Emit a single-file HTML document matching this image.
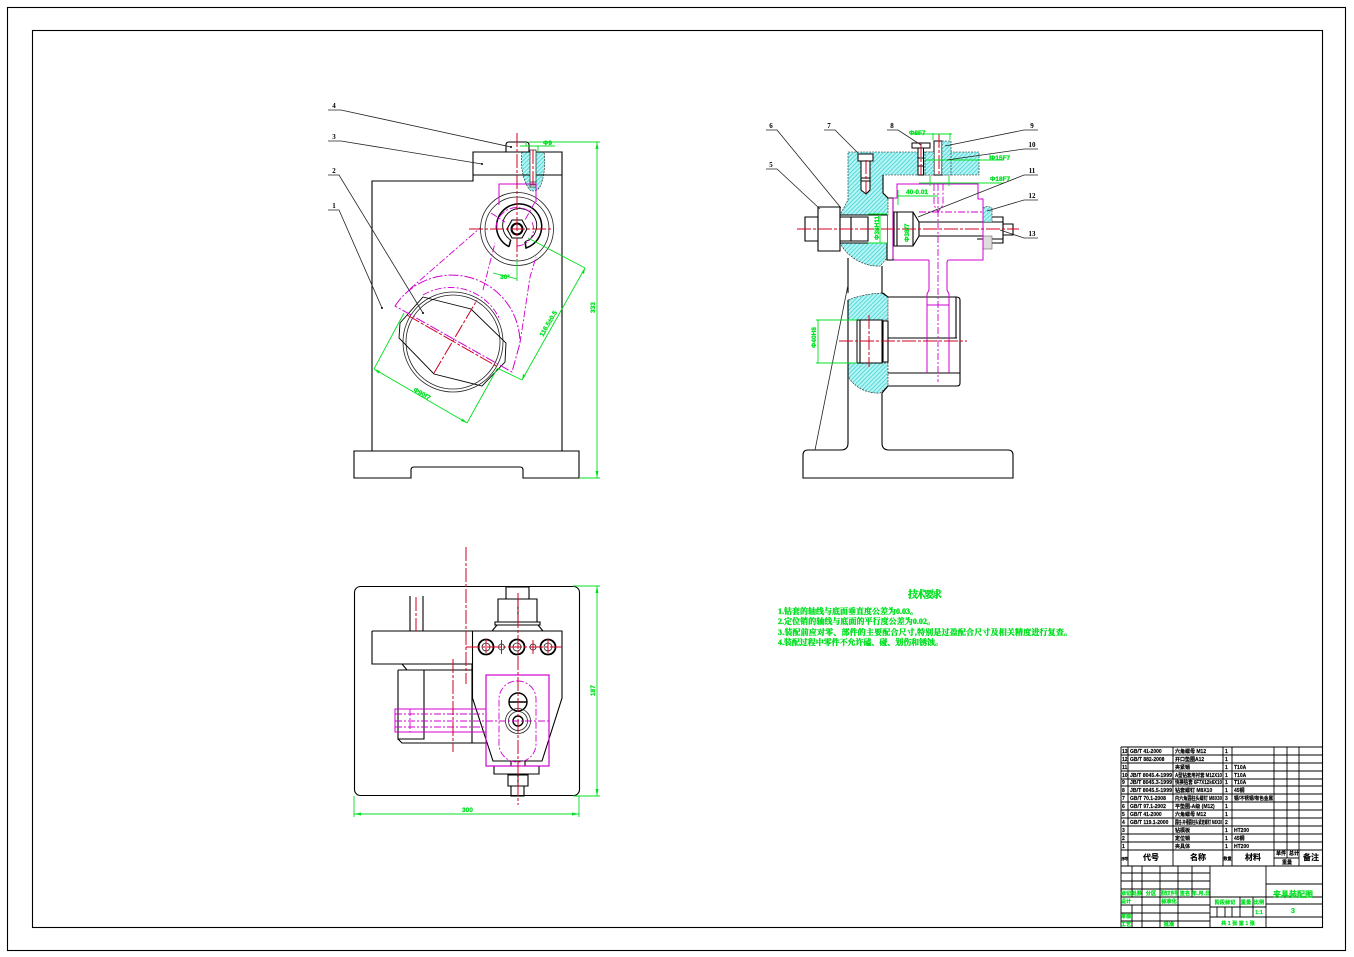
<!DOCTYPE html>
<html><head><meta charset="utf-8"><style>
html,body{margin:0;padding:0;background:#fff}
svg{display:block}
text{font-family:"Liberation Sans","Noto Sans CJK SC",sans-serif}
.k{fill:none;stroke:#000;stroke-width:1.1}
.w{fill:#fff;stroke:#000;stroke-width:1}
.t{fill:none;stroke:#222;stroke-width:.8}
.m{fill:none;stroke:#d000d0;stroke-width:1}
.md{fill:none;stroke:#d000d0;stroke-width:.9;stroke-dasharray:7 2 2 2}
.r{fill:none;stroke:#d00020;stroke-width:1;stroke-dasharray:14 2 3 2}
.g{fill:none;stroke:#00e020;stroke-width:.9}
.gt{fill:#00e020;font-size:6.5px;font-weight:bold;stroke:#00e020;stroke-width:.25}
.n{fill:#000;font-size:7px;font-weight:bold;text-anchor:middle;font-family:"Liberation Serif",serif}
.b{fill:#000;font-size:5px;font-weight:bold;stroke:#000;stroke-width:.15}
.h{fill:#000;font-size:8px;font-weight:bold;text-anchor:middle;stroke:#000;stroke-width:.15}
.s{fill:#00e020;font-size:5.2px;font-weight:bold;text-anchor:middle;stroke:#00e020;stroke-width:.2}
.x{fill:#00e020;font-size:8px;font-weight:bold;stroke:#00e020;stroke-width:.35;font-family:"Liberation Serif","Noto Serif CJK SC",serif}
.hat{fill:url(#hp);stroke:#222;stroke-width:.6;stroke-dasharray:2 1}
</style></head><body>
<svg width="1354" height="957" viewBox="0 0 1354 957" xmlns="http://www.w3.org/2000/svg">
<defs><pattern id="hp" width="3" height="3" patternUnits="userSpaceOnUse" patternTransform="rotate(45)"><rect width="3" height="3" fill="#b8f4f4"/><rect width="1" height="3" fill="#55dada"/></pattern></defs>
<rect width="1354" height="957" fill="#fff"/>
<rect x="7.5" y="7.5" width="1338" height="943" class="k"/>
<rect x="32.5" y="30.5" width="1290" height="897" class="k"/>

<!-- FRONT VIEW -->
<path class="hat" d="M522 152C520 165 523 182 530 190C533 192 537 191 540 187C544 178 546 163 544 152Z"/>
<path class="k" d="M354 451H579V478H523V470Q523 467 520 467H414Q411 467 411 470V478H354Z"/>
<path class="k" d="M372 451V181H473V152H562V451M473 175H562"/>
<path class="k" d="M506 152V145Q506 142 509 142H526Q529 142 529 145V152M506 152H529"/>
<rect x="530" y="150" width="6" height="37" fill="#fff" stroke="#222" stroke-width=".7"/>
<path class="t" d="M530 182H536M530 185H536"/>
<circle cx="517" cy="229" r="36.5" class="t"/><circle cx="517" cy="229" r="32" class="t"/>
<path class="k" style="stroke-width:1.5" d="M509 246.7A22.6 22.6 0 1 1 526 248L525 241.7M509 246.7L510.7 240"/>
<path class="k" style="stroke-width:.9" d="M510.7 240A17 17 0 1 1 525 241.7"/>
<path class="k" d="M507 229L512 220H522L527 229L522 238H512Z"/>
<circle cx="517" cy="229" r="5.5" class="k" style="stroke-width:2"/>
<circle cx="453" cy="342" r="50" class="t"/><circle cx="453" cy="342" r="47" class="t"/>
<path class="k" d="M423 297L471 309L506 343L505 362L482 386L434 374L399 338L400 323Z" style="stroke-width:.9"/>
<path class="m" d="M395 306A68 68 0 0 1 520 343L512 372Z" style="stroke-dasharray:10 2 2 2"/>
<path class="m" d="M499 205V184H536V202"/>
<path class="md" d="M423 295A54 54 0 0 1 500 320M410 289L480 228M520 343L530 277L536 257M483 290L495 243M491 213L505 222M535 202L525 220M496 229A21 21 0 0 1 530 212M517 246A17 17 0 0 0 532 222"/>
<path class="r" d="M407 315L498 367M434 373L477 300M517 133V260M469 229H552M533 150V187"/>
<path class="g" d="M529 142H600M597 142V478M580 478H600M374 369L467 423M374 369L404 313M467 423L497 369M522 380L585 268M585 268L528 238M522 380L497 368M493 273L517 279M517 260V281M520 146H555M526 146V142M538 146V152"/>
<path fill="#00e020" d="M597 142l-1.5 7h3zM597 478l-1.5-7h3zM374 369l6 2-1.5 2.5zM467 423l-6-2 1.5-2.5zM522 380l1-6 2.5 1.5zM585 268l-1 6-2.5-1.5z"/>
<text class="gt" transform="translate(595,313) rotate(-90)">333</text>
<text class="gt" transform="translate(413,391) rotate(30)">Φ90f7</text>
<text class="gt" transform="translate(543,337) rotate(-60)">116.5±0.5</text>
<text class="gt" x="500" y="279">30°</text>
<text class="gt" x="543" y="145">Φ9</text>

<!-- leaders left -->
<path class="t" d="M328 110H341L511 147M328 141H341L482 164M328 175H339L423 313M328 210H339L382 308"/>
<g fill="#000"><circle cx="511" cy="147" r="1"/><circle cx="482" cy="164" r="1"/><circle cx="423" cy="313" r="1"/><circle cx="382" cy="308" r="1"/></g>
<text class="n" x="334" y="108">4</text><text class="n" x="334" y="139">3</text><text class="n" x="334" y="173">2</text><text class="n" x="334" y="208">1</text>

<!-- SECTION VIEW -->
<path class="hat" d="M848 152H979V175H883V193L888 198V215H840L848 200Z"/>
<path class="hat" d="M840 243H887V258L880 266C865 267 848 258 840 243Z"/>
<path class="hat" d="M848 300C860 295 875 293 884 293L888 297V320H848Z"/>
<path class="hat" d="M848 363H888V386L880 393C865 394 852 385 848 376Z"/>
<path class="k" d="M883 175V193L888 198M887 198H893V260H887V215M887 243V258"/>
<path class="k" d="M848 258V293M882 266V293L888 297H956Q960 297 960 300V383Q960 386 957 386H888L882 393V443Q882 450 889 450H1008Q1013 450 1013 455V478H803V455Q803 450 808 450H841Q848 450 848 443V376"/>
<path class="k" d="M888 338H957M888 373H960M956 297V338M848 300V376"/>
<rect x="857" y="320" width="25" height="43" class="w"/>
<path class="k" d="M860 320V363M883 321H888V362H883Z"/>
<rect x="840" y="215" width="47" height="28" fill="#fff"/>
<path class="k" d="M840 215H887M840 243H887"/>
<path class="k" d="M818 207H840V251H818ZM805 217H818V241H805ZM840 217H868V241H840ZM851 217V241"/>
<path class="k" d="M894 212H913V246H894ZM897 212V246M913 212L919 222V236L913 246M919 222H983M919 236H983M977 222H1003V239H977M983 217H1003V243H983M1003 224H1013V235H1003"/>
<path class="hat" d="M983 208Q987 205 992 208V222H983Z"/>
<rect x="983" y="236" width="9" height="13" fill="#ddd" stroke="#666" stroke-width=".6"/>
<rect x="858" y="154" width="15" height="7" class="w"/>
<path class="w" d="M861 161H870V190L866 194L861 190Z"/>
<path class="k" d="M861 178H870M861 181H870"/>
<path class="w" d="M912 143H930V148H912Z"/>
<rect x="918" y="148" width="5.5" height="27" class="w"/>
<path class="k" d="M918 158H923M918 166H923"/>
<rect x="934" y="141" width="8" height="34" class="w"/>
<path class="hat" d="M942 141H951V175H942ZM925 152H934V175H925Z"/>
<path class="t" d="M848 285L815 450"/>
<path class="m" d="M893 198H897V184H978V199H983V260H949Q947 260 947 263V290L949 294V373M929 260H895Q893 260 893 258V198M929 260V290L927 294V373M927 305H949"/>
<path class="md" d="M938 184V382M934 184V205L938 212L943 205V184M919 212H983"/>
<path class="r" d="M797 229H1019M839 341H967M869 315V367M939 134V175M866 160V193M921 143V175"/>
<path class="g" d="M818 320V363M816 320H857M816 363H857M880 214V243M868 214H887M868 243H887M933 133V140M950 133V140M910 134H952M925 160H1004M990 160V154M919 183H1004M930 176V186M949 176V186M898 196H938M898 190V205"/>
<text class="gt" transform="translate(816,348) rotate(-90)">Φ40H8</text>
<text class="gt" transform="translate(879,240) rotate(-90)">Φ38H11</text>
<text class="gt" transform="translate(909,242) rotate(-90)">Φ38f7</text>
<text class="gt" x="909" y="135">Φ8F7</text>
<text class="gt" x="990" y="160">Φ15F7</text>
<text class="gt" x="990" y="181">Φ18F7</text>
<text class="gt" x="906" y="194">40-0.01</text>

<path class="t" d="M766 130H777L841 208M766 169H777L820 209M824 130H835L858 153M887 130H898L921 145M1038 130H1024L945 146M1038 149H1024L947 160M1038 175H1024L918 217M1038 200H1024L987 211M1038 238H1024L1000 230"/>
<text class="n" x="771" y="128">6</text><text class="n" x="771" y="167">5</text><text class="n" x="829" y="128">7</text><text class="n" x="892" y="128">8</text><text class="n" x="1032" y="128">9</text><text class="n" x="1032" y="147">10</text><text class="n" x="1032" y="173">11</text><text class="n" x="1032" y="198">12</text><text class="n" x="1032" y="236">13</text>

<!-- PLAN VIEW -->
<rect x="354.5" y="586.5" width="225" height="209" rx="6" class="k"/>
<path class="k" d="M410 596V631M423 596V631M372 631H562V698L542 761H493L472.500 698V631M372 631V664H472M472 664V743M398 670H472M398 670V739H424V670M398 739L402 743H487M402 664L407 670"/>
<path class="k" d="M506 599V587H529V599M498 599H537V622H498ZM518 599V622M495 622H540V625H495ZM492 631L497 625M543 631L538 625"/>
<g class="k" style="stroke-width:1.8"><circle cx="486" cy="647" r="7.500"/><circle cx="517" cy="647" r="7.500"/><circle cx="548" cy="647" r="7.500"/></g>
<g class="t"><circle cx="486" cy="647" r="4"/><circle cx="517" cy="647" r="4"/><circle cx="548" cy="647" r="4"/><circle cx="501.500" cy="647" r="3"/><circle cx="533" cy="647" r="3"/></g>
<path class="k" d="M494 766H539V774H494ZM511 761V766M525 761V766M508 775H528V786H508ZM511 786H524V796H511ZM518 775V786"/>
<circle cx="518" cy="702" r="9" class="k" style="stroke-width:1.4"/><path class="k" d="M509 702H527" style="stroke-width:1.6"/>
<circle cx="518" cy="721" r="12.500" class="t"/><circle cx="518" cy="721" r="9.500" class="t"/><circle cx="518" cy="721" r="5" class="k" style="stroke-width:1.4"/>
<rect x="486" y="675" width="63" height="91" class="m" style="stroke-width:1.2"/>
<rect x="499" y="681" width="37" height="81" rx="18" class="md"/>
<path class="m" d="M486 709H395V732H486"/>
<path class="md" d="M410 709V732M395 714H486M395 727H486M395 721H550"/>
<path class="r" d="M466 547V684M518 593V805M453 659V752M466 647H562M416 597V631M486 639V655M548 639V655M501.500 640V654M533 640V654"/>
<path class="g" d="M573 586H600M597 586V796M573 796H600M354 796V817M579 796V817M354 814H579"/>
<path fill="#00e020" d="M597 586l-1.500 7h3zM597 796l-1.500-7h3zM354 814l7-1.500v3zM579 814l-7-1.500v3z"/>
<text class="gt" transform="translate(595,696) rotate(-90)">187</text>
<text class="gt" x="462" y="812">300</text>

<!-- TECH TEXT -->
<text class="x" x="908" y="598" style="font-size:10px" textLength="34">技术要求</text>
<text class="x" x="778" y="614" textLength="140">1.钻套的轴线与底面垂直度公差为0.03。</text>
<text class="x" x="778" y="624" textLength="157">2.定位销的轴线与底面的平行度公差为0.02。</text>
<text class="x" x="778" y="635" textLength="294">3.装配前应对零、部件的主要配合尺寸,特别是过盈配合尺寸及相关精度进行复查。</text>
<text class="x" x="778" y="645" textLength="165">4.装配过程中零件不允许磕、碰、划伤和锈蚀。</text>

<!-- TABLE -->
<path class="k" style="stroke-width:.9" d="M1121 747H1322M1121 755H1322M1121 763H1322M1121 771H1322M1121 779H1322M1121 786H1322M1121 794H1322M1121 802H1322M1121 810H1322M1121 818H1322M1121 826H1322M1121 834H1322M1121 842H1322M1121 850H1322M1121 747V927M1128 747V866M1173 747V866M1223 747V866M1232 747V866M1274 747V866M1287 747V858M1299 747V866M1274 858H1299M1121 866H1322
M1121 873H1210M1121 881H1210M1121 889H1210M1121 897H1322M1121 905H1210M1121 913H1210M1121 921H1210M1132 866V897M1142 866V927M1160 866V927M1178 866V927M1192 866V897M1132 905V927M1210 866V927M1266 866V927M1266 884H1322M1266 904H1322M1266 917H1322M1210 907H1266M1210 917H1266M1240 897V917M1253 897V917M1217 907V917M1225 907V917M1232 907V917"/>
<g class="b">
<text x="1122" y="753">13</text><text x="1130" y="753">GB/T 41-2000</text><text x="1175" y="753">六角螺母 M12</text><text x="1225" y="753">1</text>
<text x="1122" y="761">12</text><text x="1130" y="761">GB/T 882-2008</text><text x="1175" y="761">开口垫圈A12</text><text x="1225" y="761">1</text>
<text x="1122" y="769">11</text><text x="1175" y="769">夹紧销</text><text x="1225" y="769">1</text><text x="1234" y="769">T10A</text>
<text x="1122" y="777">10</text><text x="1130" y="777" textLength="42" lengthAdjust="spacingAndGlyphs">JB/T 8045.4-1999</text><text x="1175" y="777" textLength="47" lengthAdjust="spacingAndGlyphs">A型钻套用衬套 M12X10</text><text x="1225" y="777">1</text><text x="1234" y="777">T10A</text>
<text x="1122" y="784">9</text><text x="1130" y="784" textLength="42" lengthAdjust="spacingAndGlyphs">JB/T 8045.3-1999</text><text x="1175" y="784" textLength="47" lengthAdjust="spacingAndGlyphs">快换钻套 6F7X12k6X10</text><text x="1225" y="784">1</text><text x="1234" y="784">T10A</text>
<text x="1122" y="792">8</text><text x="1130" y="792" textLength="42" lengthAdjust="spacingAndGlyphs">JB/T 8045.5-1999</text><text x="1175" y="792">钻套螺钉 M8X10</text><text x="1225" y="792">1</text><text x="1234" y="792">45钢</text>
<text x="1122" y="800">7</text><text x="1130" y="800">GB/T 70.1-2008</text><text x="1175" y="800" textLength="47" lengthAdjust="spacingAndGlyphs">内六角圆柱头螺钉 M8X30</text><text x="1225" y="800">3</text><text x="1234" y="800" textLength="39" lengthAdjust="spacingAndGlyphs">钢/不锈钢/有色金属</text>
<text x="1122" y="808">6</text><text x="1130" y="808">GB/T 97.1-2002</text><text x="1175" y="808">平垫圈-A级 (M12)</text><text x="1225" y="808">1</text>
<text x="1122" y="816">5</text><text x="1130" y="816">GB/T 41-2000</text><text x="1175" y="816">六角螺母 M12</text><text x="1225" y="816">1</text>
<text x="1122" y="824">4</text><text x="1130" y="824">GB/T 119.1-2000</text><text x="1175" y="824" textLength="47" lengthAdjust="spacingAndGlyphs">圆柱-开槽圆柱头紧定螺钉 M8X20</text><text x="1225" y="824">2</text>
<text x="1122" y="832">3</text><text x="1175" y="832">钻模板</text><text x="1225" y="832">1</text><text x="1234" y="832">HT200</text>
<text x="1122" y="840">2</text><text x="1175" y="840">定位销</text><text x="1225" y="840">1</text><text x="1234" y="840">45钢</text>
<text x="1122" y="848">1</text><text x="1175" y="848">夹具体</text><text x="1225" y="848">1</text><text x="1234" y="848">HT200</text>
</g>
<text class="b" x="1121.500" y="860" style="font-size:3.500px" textLength="6.500">序号</text>
<text class="h" x="1151" y="860">代号</text><text class="h" x="1198" y="860">名称</text>
<text class="b" x="1223.500" y="860" style="font-size:4px" textLength="8">数量</text>
<text class="h" x="1253" y="860">材料</text>
<text class="b" x="1276" y="855">单件</text><text class="b" x="1289" y="855">总计</text><text class="b" x="1282" y="864">重量</text>
<text class="h" x="1311" y="860">备注</text>
<g class="s">
<text x="1126" y="895">标记</text><text x="1137" y="895">处数</text><text x="1151" y="895">分区</text><text x="1169" y="895" textLength="17" lengthAdjust="spacingAndGlyphs">更改文件号</text><text x="1185" y="895">签名</text><text x="1201" y="895">年.月.日</text>
<text x="1126" y="903">设计</text><text x="1169" y="903">标准化</text><text x="1126" y="918">审核</text><text x="1126" y="926">工艺</text><text x="1169" y="926">批准</text>
<text x="1225" y="904">阶段标记</text><text x="1246" y="904">重量</text><text x="1259" y="904">比例</text><text x="1259" y="914">1:1</text>
<text x="1238" y="925">共 1 张    第 1 张</text>
</g>
<text class="s" x="1293" y="897" style="font-size:8px">夹具装配图</text>
<text class="s" x="1293" y="913" style="font-size:7px">3</text>
</svg>
</body></html>
